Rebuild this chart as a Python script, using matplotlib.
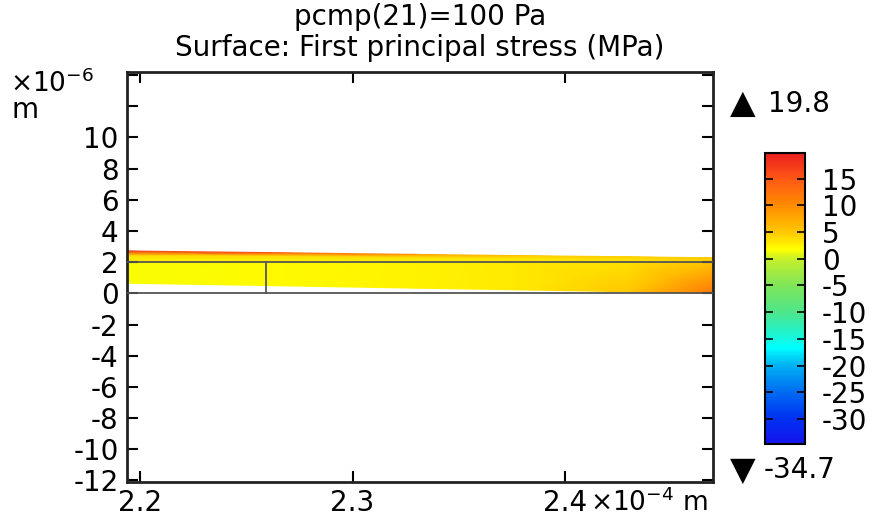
import numpy as np
import matplotlib
matplotlib.use("Agg")
import matplotlib.pyplot as plt
from matplotlib.colors import LinearSegmentedColormap, Normalize

# ---------------- data ----------------
title_lines = ["pcmp(21)=100 Pa", "Surface: First principal stress (MPa)"]
stress_min, stress_max = -34.7, 19.8
cbar_ticks = [15, 10, 5, 0, -5, -10, -15, -20, -25, -30]

# x positions of field nodes (x 1e-4 m)
x_nodes = [2.1939, 2.2593, 2.33, 2.38, 2.43, 2.4696]
# lower layer (x 1e-6 m)
lower_bottom_y = [0.65, 0.5, 0.33, 0.22, 0.1, 0.0]
lower_top_y = [2.05, 2.05, 2.05, 2.05, 2.05, 2.02]
lower_bottom_s = [1.5, 2.0, 2.5, 3.0, 5.0, 12.0]
lower_top_s = [1.5, 2.0, 2.5, 3.0, 3.5, 5.5]
# upper thin layer
upper_bottom_y = [2.05, 2.05, 2.05, 2.05, 2.05, 2.02]
upper_mid_y = [2.45, 2.42, 2.35, 2.3, 2.25, 2.2]
upper_top_y = [2.72, 2.62, 2.5, 2.42, 2.35, 2.28]
upper_bottom_s = [2.5, 2.5, 2.5, 3.0, 3.5, 4.0]
upper_mid_s = [4.0, 4.0, 4.0, 3.5, 4.0, 4.5]
upper_top_s = [18.0, 16.0, 9.0, 5.0, 4.5, 5.0]

# geometry edges (undeformed)
edge_y = [0.0, 2.0]
edge_vx = 2.2593

x_ticks = [2.2, 2.3, 2.4]
x_tick_labels = ["2.2", "2.3", "2.4"]
y_ticks = [-12, -10, -8, -6, -4, -2, 0, 2, 4, 6, 8, 10, 12, 14]
y_tick_labels = ["-12", "-10", "-8", "-6", "-4", "-2", "0", "2", "4", "6", "8", "10", "", ""]
xlim = (2.1939, 2.4696)
ylim = (-12.1, 14.2)

# ---------------- style ----------------
plt.rcParams['font.family'] = ['DejaVu Sans']
plt.rcParams['axes.unicode_minus'] = False
cm_pos = [0.0, 0.09, 0.18, 0.27, 0.33, 0.45, 0.545, 0.637, 0.67, 0.73, 0.82, 0.91, 1.0]
cm_col = [(0.08, 0.08, 0.92), (0.0, 0.2, 0.95), (0.0, 0.43, 0.95), (0.0, 0.7, 0.95),
          (0.0, 1.0, 1.0), (0.3, 0.9, 0.55), (0.5, 0.9, 0.35), (0.78, 0.94, 0.16),
          (1.0, 1.0, 0.0), (1.0, 0.78, 0.0), (1.0, 0.55, 0.0), (1.0, 0.35, 0.08),
          (0.92, 0.12, 0.12)]
cmap = LinearSegmentedColormap.from_list("comsol_rainbow", list(zip(cm_pos, cm_col)))
norm = Normalize(vmin=stress_min, vmax=stress_max)

fs = 20
fig = plt.figure(figsize=(8.75, 5.16), dpi=100)
ax = fig.add_axes([127/875, 1-482/516, (713-127)/875, (482-72)/516])

def layer(rows_y, rows_s):
    X = np.array([x_nodes] * len(rows_y))
    Y = np.array(rows_y)
    C = np.array(rows_s)
    ax.pcolormesh(X, Y, C, shading='gouraud', cmap=cmap, norm=norm, zorder=1)

layer([lower_bottom_y, lower_top_y], [lower_bottom_s, lower_top_s])
layer([upper_bottom_y, upper_mid_y, upper_top_y], [upper_bottom_s, upper_mid_s, upper_top_s])

for yy in edge_y:
    ax.plot(xlim, [yy, yy], color='#555555', lw=1.3, zorder=3)
ax.plot([edge_vx, edge_vx], edge_y, color='#555555', lw=1.3, zorder=3)

ax.set_xlim(*xlim)
ax.set_ylim(*ylim)
ax.set_xticks(x_ticks)
ax.set_xticklabels(x_tick_labels)
ax.set_yticks(y_ticks)
ax.set_yticklabels(y_tick_labels)
ax.tick_params(direction='in', length=8, width=1.5, top=True, right=True,
               labelsize=fs, colors='black')
ax.tick_params(axis='y', pad=6)
ax.tick_params(axis='x', pad=5)
for sp in ax.spines.values():
    sp.set_linewidth(2)
    sp.set_color('#222222')

fig.text(420/875, 1-17/516, title_lines[0], ha='center', va='center', fontsize=fs)
fig.text(420/875, 1-48/516, title_lines[1], ha='center', va='center', fontsize=fs)
fig.text(10/875, 1-84/516, r"$\times$10$^{-6}$", ha='left', va='center', fontsize=19)
fig.text(12/875, 1-110/516, "m", ha='left', va='center', fontsize=fs)
fig.text(590/875, 1-503/516, r"$\times$10$^{-4}$ m", ha='left', va='center', fontsize=19)

# colorbar
cax = fig.add_axes([765/875, 1-444/516, 40/875, (444-153)/516])
sm = plt.cm.ScalarMappable(norm=norm, cmap=cmap)
cb = fig.colorbar(sm, cax=cax, ticks=cbar_ticks)
cb.ax.tick_params(direction='in', left=True, right=True, length=6, width=1.2,
                  labelsize=fs, pad=12)
cb.outline.set_linewidth(1.5)

fig.text(743/875, 1-103/516, "\u25B2", ha='center', va='center', fontsize=24)
fig.text(768/875, 1-104/516, f"{stress_max}", ha='left', va='center', fontsize=fs)
fig.text(743/875, 1-470/516, "\u25BC", ha='center', va='center', fontsize=24)
fig.text(764/875, 1-470/516, f"{stress_min}", ha='left', va='center', fontsize=fs)

fig.savefig("out.png", dpi=100)
